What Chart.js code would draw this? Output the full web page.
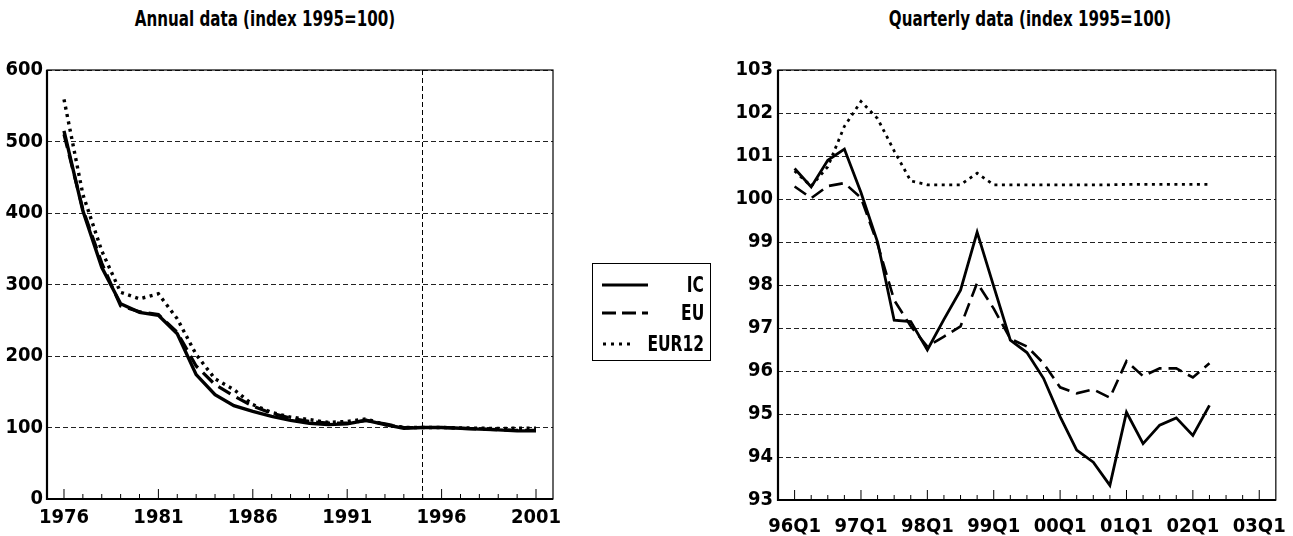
<!DOCTYPE html>
<html>
<head>
<meta charset="utf-8">
<script src="https://cdn.jsdelivr.net/npm/chart.js@4.4.1/dist/chart.umd.min.js"></script>
<style>
  body { margin: 0; background: #fff; width: 1293px; height: 536px; position: relative; overflow: hidden;
         font-family: 'DejaVu Sans Condensed', 'Liberation Sans', sans-serif; font-weight: bold; color: #000; }
  .title { position: absolute; top: 7px; font-size: 21px; white-space: nowrap; transform: translateX(-50%) scaleX(0.8); }
  #left-wrap { position: absolute; left: 0; top: 0; width: 580px; height: 536px; }
  #right-wrap { position: absolute; left: 710px; top: 0; width: 583px; height: 536px; }
  #legend { position: absolute; left: 592px; top: 263px; width: 117px; height: 96px; border: 1.5px solid #000; }
  .row { position: absolute; left: 9px; right: 6px; height: 24px; display: flex; align-items: center; justify-content: space-between; font-size: 21px; }
  .row span { display: inline-block; transform: scaleX(0.82); transform-origin: right center; }
</style>
</head>
<body>
<div class="title" style="left:265px">Annual data (index 1995=100)</div>
<div class="title" style="left:1030px">Quarterly data (index 1995=100)</div>
<div id="left-wrap"><canvas id="annualChart" width="580" height="536"></canvas></div>
<div id="right-wrap"><canvas id="quarterChart" width="583" height="536"></canvas></div>
<div id="legend">
  <div class="row" style="top:9px"><svg width="46" height="8"><line x1="0" y1="4" x2="46" y2="4" stroke="#000" stroke-width="3"/></svg><span>IC</span></div>
  <div class="row" style="top:37px"><svg width="46" height="8"><line x1="0" y1="4" x2="46" y2="4" stroke="#000" stroke-width="3" stroke-dasharray="14 6"/></svg><span>EU</span></div>
  <div class="row" style="top:68px"><svg width="46" height="8"><line x1="1" y1="4" x2="46" y2="4" stroke="#000" stroke-width="3" stroke-dasharray="3 5"/></svg><span>EUR12</span></div>
</div>
<script>
// Annual data (index 1995=100)
const years = [1976, 1977, 1978, 1979, 1980, 1981, 1982, 1983, 1984, 1985, 1986, 1987, 1988,
               1989, 1990, 1991, 1992, 1993, 1994, 1995, 1996, 1997, 1998, 1999, 2000, 2001];
const annualIC = [515, 403, 324, 273, 261, 257, 231, 174, 146, 130.5, 122.5, 115.5, 110,
                  106, 104, 105, 110, 104, 99, 100, 100, 99, 97.7, 96.7, 95.3, 95.3];
const annualEU = [510, 405, 330, 270, 262, 258, 233, 186, 160, 144, 130, 120, 113,
                  108.5, 106, 106, 110, 105, 100, 100, 100, 99, 98, 97, 96, 96];
const annualEUR12 = [559, 426, 347, 289, 280, 287, 252, 202, 168, 153, 132, 121, 114.5,
                     111, 107, 108.5, 112, 104, 100, 100, 100, 99.5, 99, 98.5, 99, 99];
const baseYear = 1995;

// Quarterly data (index 1995=100)
const quarters = ['96Q1', '96Q2', '96Q3', '96Q4', '97Q1', '97Q2', '97Q3', '97Q4', '98Q1', '98Q2',
                  '98Q3', '98Q4', '99Q1', '99Q2', '99Q3', '99Q4', '00Q1', '00Q2', '00Q3', '00Q4',
                  '01Q1', '01Q2', '01Q3', '01Q4', '02Q1', '02Q2'];
const quarterTicks = ['96Q1', '97Q1', '98Q1', '99Q1', '00Q1', '01Q1', '02Q1', '03Q1'];
const quarterIC = [100.71, 100.28, 100.9, 101.16, 100.15, 99.0, 97.18, 97.15, 96.49, 97.2,
                   97.88, 99.23, 97.97, 96.72, 96.43, 95.83, 94.94, 94.16, 93.88, 93.34,
                   95.04, 94.31, 94.74, 94.91, 94.5, 95.2];
const quarterEU = [100.29, 100.02, 100.3, 100.37, 100.03, 98.95, 97.65, 97.04, 96.57, 96.8,
                   97.04, 98.05, 97.45, 96.75, 96.57, 96.18, 95.62, 95.48, 95.57, 95.38,
                   96.23, 95.88, 96.06, 96.06, 95.85, 96.18];
const quarterEUR12 = [100.65, 100.3, 100.75, 101.69, 102.27, 101.87, 101.12, 100.42, 100.33, 100.33,
                      100.33, 100.6, 100.33, 100.33, 100.33, 100.33, 100.33, 100.33, 100.33, 100.33,
                      100.34, 100.34, 100.34, 100.34, 100.34, 100.34];

const FONT = "'DejaVu Sans Condensed', 'Liberation Sans', sans-serif";
Chart.defaults.font.family = FONT;
Chart.defaults.font.weight = 'bold';
Chart.defaults.color = '#000';

// box around the plot + small tick marks pointing up from the x axis
const framePlugin = {
    id: 'frame',
    afterDraw(chart, args, opts) {
        const { ctx, chartArea: a } = chart;
        const x = chart.scales.x;
        ctx.save();
        ctx.strokeStyle = '#000';
        ctx.setLineDash([]);
        ctx.lineWidth = 1.2;
        ctx.strokeRect(a.left, a.top, a.right - a.left, a.bottom - a.top);
        ctx.lineWidth = 2.2;
        ctx.beginPath();
        ctx.moveTo(a.left, a.top);
        ctx.lineTo(a.left, a.bottom);
        ctx.lineTo(a.right, a.bottom);
        ctx.stroke();
        ctx.lineWidth = 1;
        x.ticks.forEach(t => {
            const px = x.getPixelForValue(t.value);
            const h = (t.value - opts.first) % opts.every === 0 ? 10 : 5;
            ctx.beginPath();
            ctx.moveTo(px, a.bottom);
            ctx.lineTo(px, a.bottom - h);
            ctx.stroke();
        });
        ctx.restore();
    }
};

function series(xs, ys) {
    return ys.map((v, i) => ({ x: xs[i], y: v }));
}

function lineSets(xs, ic, eu, eur, width) {
    return [
        { label: 'IC', data: series(xs, ic), borderColor: '#000', borderWidth: width, pointRadius: 0, tension: 0 },
        { label: 'EU', data: series(xs, eu), borderColor: '#000', borderWidth: width - 0.2, borderDash: [14, 7], pointRadius: 0, tension: 0 },
        { label: 'EUR12', data: series(xs, eur), borderColor: '#000', borderWidth: width, borderDash: [3, 4.5], pointRadius: 0, tension: 0 }
    ];
}

const yGrid = { color: '#222', lineWidth: 1, drawTicks: false };
const yBorder = { display: false, dash: [5, 3] };

new Chart(document.getElementById('annualChart'), {
    type: 'line',
    data: { datasets: lineSets(years, annualIC, annualEU, annualEUR12, 3.4) },
    options: {
        responsive: false,
        animation: false,
        layout: { padding: { top: 70, right: 27, left: 0, bottom: 0 } },
        plugins: { legend: { display: false }, tooltip: { enabled: false }, frame: { first: 1976, every: 5 } },
        scales: {
            x: {
                type: 'linear', min: 1975.1, max: 2001.9,
                afterBuildTicks: s => { s.ticks = years.map(v => ({ value: v })); },
                afterFit: s => { s.height = 37; },
                ticks: { autoSkip: false, maxRotation: 0, padding: 7, font: { size: 20 },
                         callback: v => ((v - 1976) % 5 === 0 ? String(v) : '') },
                grid: { drawTicks: false, lineWidth: 1,
                        color: c => (c.tick && c.tick.value === baseYear ? '#000' : 'rgba(0,0,0,0)') },
                border: { display: false, dash: [5, 3] }
            },
            y: {
                min: 0, max: 600,
                afterFit: s => { s.width = 47; },
                ticks: { stepSize: 100, padding: 4, font: { size: 20 } },
                grid: yGrid,
                border: yBorder
            }
        }
    },
    plugins: [framePlugin]
});

const qIndex = quarters.map((q, i) => i);

new Chart(document.getElementById('quarterChart'), {
    type: 'line',
    data: { datasets: lineSets(qIndex, quarterIC, quarterEU, quarterEUR12, 2.8) },
    options: {
        responsive: false,
        animation: false,
        layout: { padding: { top: 70, right: 10, left: 0, bottom: 0 } },
        plugins: { legend: { display: false }, tooltip: { enabled: false }, frame: { first: 0, every: 4 } },
        scales: {
            x: {
                type: 'linear', min: -1, max: 29,
                afterBuildTicks: s => {
                    const t = [];
                    for (let i = 0; i <= 28; i++) t.push({ value: i });
                    s.ticks = t;
                },
                afterFit: s => { s.height = 36; },
                ticks: { autoSkip: false, maxRotation: 0, padding: 7, font: { size: 20 },
                         callback: v => (v % 4 === 0 ? quarterTicks[v / 4] : '') },
                grid: { display: false },
                border: { display: false }
            },
            y: {
                min: 93, max: 103,
                afterFit: s => { s.width = 68; },
                ticks: { stepSize: 1, padding: 5, font: { size: 20 } },
                grid: yGrid,
                border: yBorder
            }
        }
    },
    plugins: [framePlugin]
});
</script>
</body>
</html>
